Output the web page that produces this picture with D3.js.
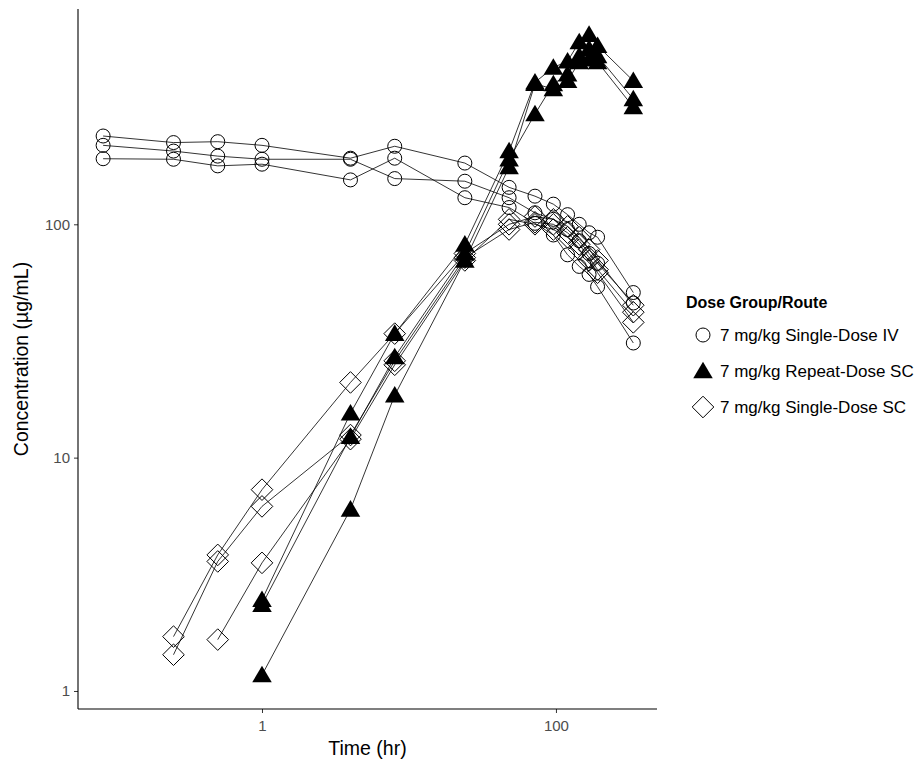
<!DOCTYPE html>
<html>
<head>
<meta charset="utf-8">
<script src="https://cdn.jsdelivr.net/npm/d3@7/dist/d3.min.js"></script>
<style>
  html, body { margin: 0; padding: 0; background: #fff; }
  svg { display: block; font-family: "Liberation Sans", Arial, sans-serif; }
</style>
</head>
<body>
<svg id="chart" width="919" height="768"></svg>
<script>
// Sampling times (hr)
const timesIV = [0.083, 0.25, 0.5, 1, 4, 8, 24, 48, 72, 96, 120, 144, 168, 192, 336];
const timesRepeatSC = [1, 4, 8, 24, 48, 72, 96, 120, 144, 168, 192, 336];
const timesSingleSC = [0.25, 0.5, 1, 4, 8, 24, 48, 72, 96, 120, 144, 168, 192, 336];

// 7 mg/kg Single-Dose IV, concentration (µg/mL) per animal
const ivAnimal1 = [239, 224, 226, 218, 192, 216, 183, 144, 132, 122, 110, 100, 92, 88, 51];
const ivAnimal2 = [218, 206, 196, 190, 190, 157, 153, 130, 112, 105, 95, 85, 75, 68, 46];
const ivAnimal3 = [191, 190, 178, 181, 155, 192, 130, 118, 101, 90, 74, 66, 61, 54, 31];

// 7 mg/kg Repeat-Dose SC
const repAnimal1 = [2.46, 15.5, 34, 82, 206, 406, 470, 500, 604, 650, 582, 412];
const repAnimal2 = [2.34, 12.3, 27, 75, 190, 297, 399, 440, 527, 565, 527, 344];
const repAnimal3 = [1.17, 6.0, 18.5, 70, 176, 400, 380, 412, 496, 510, 496, 318];

// 7 mg/kg Single-Dose SC (null = not reported)
const scAnimal1 = [1.71, 3.83, 7.29, 21, 34, 75, 100, 108, 105, 98, 88, 78, 70, 45];
const scAnimal2 = [1.43, 3.59, 6.18, 12.5, 26, 72, 95, 102, 100, 92, 82, 72, 64, 42];
const scAnimal3 = [null, 1.66, 3.54, 12.0, 25, 70, 105, 100, 95, 88, 78, 70, 62, 38];

const groupNames = ["7 mg/kg Single-Dose IV", "7 mg/kg Repeat-Dose SC", "7 mg/kg Single-Dose SC"];
const xTickValues = [1, 100];
const yTickValues = [1, 10, 100];
const xLimits = [0.056, 487];
const yLimits = [0.837, 837];

const groups = [
  { name: groupNames[0], shape: "circle", times: timesIV, animals: [ivAnimal1, ivAnimal2, ivAnimal3] },
  { name: groupNames[1], shape: "triangle", times: timesRepeatSC, animals: [repAnimal1, repAnimal2, repAnimal3] },
  { name: groupNames[2], shape: "diamond", times: timesSingleSC, animals: [scAnimal1, scAnimal2, scAnimal3] }
];

const svg = d3.select("#chart");
const plot = { left: 78, right: 657, top: 9, bottom: 709 };

const x = d3.scaleLog().domain(xLimits).range([plot.left, plot.right]);
const y = d3.scaleLog().domain(yLimits).range([plot.bottom, plot.top]);

// symbol painters
function drawSymbol(sel, shape, cx, cy) {
  if (shape === "circle") {
    sel.append("circle").attr("cx", cx).attr("cy", cy).attr("r", 7)
      .attr("fill", "none").attr("stroke", "#000").attr("stroke-width", 1);
  } else if (shape === "triangle") {
    const h = 9.3;
    sel.append("path")
      .attr("d", `M${cx},${cy - h}L${cx + h * 1.05},${cy + h * 0.78}L${cx - h * 1.05},${cy + h * 0.78}Z`)
      .attr("fill", "#000").attr("stroke", "none");
  } else {
    const r = 10.8;
    sel.append("path")
      .attr("d", `M${cx},${cy - r}L${cx + r},${cy}L${cx},${cy + r}L${cx - r},${cy}Z`)
      .attr("fill", "none").attr("stroke", "#000").attr("stroke-width", 1);
  }
}

// connecting lines per animal
const line = d3.line()
  .x(d => x(d[0]))
  .y(d => y(d[1]));

const linesG = svg.append("g");
groups.forEach(g => {
  g.animals.forEach(vals => {
    const pts = g.times.map((t, i) => [t, vals[i]]).filter(d => d[1] != null);
    linesG.append("path").datum(pts)
      .attr("d", line)
      .attr("fill", "none").attr("stroke", "#000").attr("stroke-width", 0.8);
  });
});

const pointsG = svg.append("g");
groups.forEach(g => {
  g.animals.forEach(vals => {
    g.times.forEach((t, i) => {
      if (vals[i] == null) return;
      drawSymbol(pointsG, g.shape, x(t), y(vals[i]));
    });
  });
});

// axes
const xAxis = d3.axisBottom(x).tickValues(xTickValues).tickFormat(d3.format("d")).tickSizeOuter(0).tickSize(4).tickPadding(4);
const yAxis = d3.axisLeft(y).tickValues(yTickValues).tickFormat(d3.format("d")).tickSizeOuter(0).tickSize(4).tickPadding(4);

const gx = svg.append("g").attr("transform", `translate(0,${plot.bottom})`).call(xAxis);
const gy = svg.append("g").attr("transform", `translate(${plot.left},0)`).call(yAxis);
[gx, gy].forEach(g => {
  g.select(".domain").remove();
  g.selectAll(".tick line").attr("stroke", "#333").attr("stroke-width", 1);
  g.selectAll(".tick text").attr("fill", "#4d4d4d").style("font-size", "15px")
    .style("font-family", "'Liberation Sans', Arial, sans-serif");
});
gx.selectAll(".tick text").attr("dy", "0.9em");

svg.append("line").attr("x1", plot.left).attr("x2", plot.right)
  .attr("y1", plot.bottom).attr("y2", plot.bottom).attr("stroke", "#000").attr("stroke-width", 1.1);
svg.append("line").attr("x1", plot.left).attr("x2", plot.left)
  .attr("y1", plot.top).attr("y2", plot.bottom).attr("stroke", "#000").attr("stroke-width", 1.1);

// axis titles
svg.append("text").attr("x", (plot.left + plot.right) / 2).attr("y", 755)
  .attr("text-anchor", "middle").style("font-size", "19.5px").attr("fill", "#000")
  .text("Time (hr)");
svg.append("text").attr("transform", `translate(28,${(plot.top + plot.bottom) / 2}) rotate(-90)`)
  .attr("text-anchor", "middle").style("font-size", "19.5px").attr("fill", "#000")
  .text("Concentration (µg/mL)");

// legend
const legend = svg.append("g");
legend.append("text").attr("x", 686).attr("y", 308)
  .style("font-size", "16px").style("font-weight", "bold").attr("fill", "#000")
  .text("Dose Group/Route");
groups.forEach((g, i) => {
  const cy = 335 + i * 36;
  drawSymbol(legend, g.shape, 703, cy);
  legend.append("text").attr("x", 720).attr("y", cy).attr("dy", "0.35em")
    .style("font-size", "17px").attr("fill", "#000").text(g.name);
});
</script>
</body>
</html>
